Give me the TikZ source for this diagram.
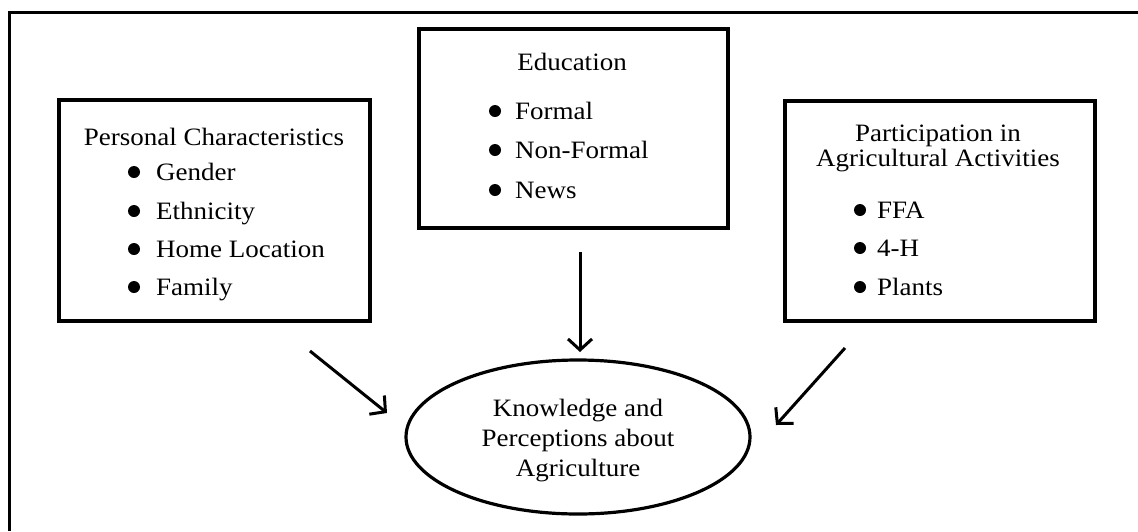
\documentclass[tikz,border=0pt]{standalone}
\usepackage{fontspec}
\setmainfont{Liberation Serif}[FakeStretch=1.08]
\usetikzlibrary{arrows.meta,shapes.geometric}
\tikzset{
  box/.style={draw, rectangle, line width=3.2pt, inner sep=0pt},
  oval/.style={draw, ellipse, line width=3.2pt, inner sep=0pt, minimum width=344pt, minimum height=154pt},
  txt/.style={inner sep=0pt, font=\fontsize{25}{30}\selectfont},
  dot/.style={circle, fill, inner sep=0pt, minimum size=12pt},
  arr/.style={line width=3pt, -{Straight Barb[length=11pt,width=24pt]}},
  frameline/.style={line width=3pt}
}
\begin{document}
\begin{tikzpicture}[x=1pt,y=-1pt]
\useasboundingbox (0,0) rectangle (1138,531);
\draw[frameline] (9,531) -- (9,12) -- (1138,12);

% boxes
\node[box, minimum width=311pt, minimum height=221pt] (pc) at (214.5,210.5) {};
\node[box, minimum width=309pt, minimum height=199pt] (ed) at (573.5,128.5) {};
\node[box, minimum width=310pt, minimum height=220pt] (pa) at (940,211) {};
\node[oval] (kp) at (578,437) {};

% personal characteristics
\node[txt, anchor=base] (pct) at (214,145) {Personal Characteristics};
\node[dot] (pb1) at (134,172) {};
\node[dot] (pb2) at (134,211) {};
\node[dot] (pb3) at (134,249) {};
\node[dot] (pb4) at (134,287) {};
\node[txt, anchor=base west] (p1) at (156,180) {Gender};
\node[txt, anchor=base west] (p2) at (156,219) {Ethnicity};
\node[txt, anchor=base west] (p3) at (156,257) {Home Location};
\node[txt, anchor=base west] (p4) at (156,295) {Family};

% education
\node[txt, anchor=base] (edt) at (572,70) {Education};
\node[dot] (eb1) at (495,111) {};
\node[dot] (eb2) at (495,150) {};
\node[dot] (eb3) at (495,190) {};
\node[txt, anchor=base west] (e1) at (515,119) {Formal};
\node[txt, anchor=base west] (e2) at (515,158) {Non-Formal};
\node[txt, anchor=base west] (e3) at (515,198) {News};

% participation
\node[txt, anchor=base] (pat1) at (938,141) {Participation in};
\node[txt, anchor=base] (pat2) at (938,166) {Agricultural Activities};
\node[dot] (ab1) at (860,210) {};
\node[dot] (ab2) at (860,248) {};
\node[dot] (ab3) at (860,287) {};
\node[txt, anchor=base west] (a1) at (877,218) {FFA};
\node[txt, anchor=base west] (a2) at (877,256) {4-H};
\node[txt, anchor=base west] (a3) at (877,295) {Plants};

% ellipse text
\node[txt, anchor=base] (k1) at (578,416) {Knowledge and};
\node[txt, anchor=base] (k2) at (578,446) {Perceptions about};
\node[txt, anchor=base] (k3) at (578,476) {Agriculture};

% arrows
\coordinate (lstart) at (310,351);
\coordinate (lend) at (387,413);
\coordinate (cstart) at (580,252);
\coordinate (cend) at (580,352);
\coordinate (rstart) at (845,348);
\coordinate (rend) at (776,425);
\draw[arr] (lstart) -- (lend);
\draw[arr] (cstart) -- (cend);
\draw[arr] (rstart) -- (rend);
\end{tikzpicture}
\end{document}
